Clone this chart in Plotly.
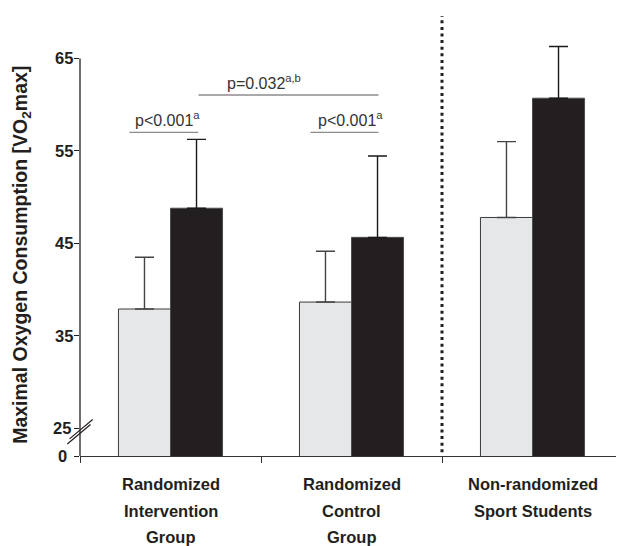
import plotly.graph_objects as go

# ---- data ----
groups = [0, 1, 2]
group_lines = [
    ["Randomized", "Intervention", "Group"],
    ["Randomized", "Control", "Group"],
    ["Non-randomized", "Sport Students"],
]
pre_vals = [37.9, 38.65, 47.8]
post_vals = [48.8, 45.65, 60.7]
pre_err = [5.6, 5.5, 8.2]
post_err = [7.45, 8.8, 5.6]
ytick_vals = [22, 25, 35, 45, 55, 65]
ytick_text = ["0", "25", "35", "45", "55", "65"]
axis_floor = 22
axis_max = 65
y_top = 69.7

FONT = "Liberation Sans, Arial, sans-serif"
OFF = 8  # page body margin offset

fig = go.Figure()
fig.add_trace(go.Bar(
    x=groups, y=pre_vals,
    marker=dict(color="#e6e7e8", line=dict(color="#3a3a3a", width=1)),
    error_y=dict(type="data", array=pre_err, arrayminus=[0]*3, symmetric=False,
                 color="#444444", thickness=1.4, width=9.5),
    showlegend=False,
))
fig.add_trace(go.Bar(
    x=groups, y=post_vals,
    marker=dict(color="#231f20", line=dict(color="#4d4d4d", width=1)),
    error_y=dict(type="data", array=post_err, arrayminus=[0]*3, symmetric=False,
                 color="#1a1a1a", thickness=1.4, width=9.5),
    showlegend=False,
))

# y axis line (ends at the top tick)
fig.add_shape(type="line", xref="paper", yref="y", x0=0, x1=0, y0=axis_floor, y1=axis_max,
              line=dict(color="#231f20", width=1.3))

# bold y tick labels
for v, t in zip(ytick_vals, ytick_text):
    right_px = 69 if t == "0" else (73 if t == "25" else 75)
    fig.add_annotation(x=(right_px - 80) / 543, y=v, xref="paper", yref="y",
                       xanchor="right", yanchor="middle", text="<b>" + t + "</b>",
                       showarrow=False, font=dict(family=FONT, size=16.5, color="#231f20"))

# dotted separator
fig.add_shape(type="line", xref="x", yref="y", x0=1.5, x1=1.5, y0=axis_floor + 0.4, y1=y_top - 0.1,
              line=dict(color="#231f20", width=3, dash="3px,3.6px"))

# significance brackets
bracket_color = "#8c8c8c"
fig.add_shape(type="line", xref="x", yref="y", x0=-0.227, x1=0.153, y0=57.0, y1=57.0,
              line=dict(color=bracket_color, width=1.4))
fig.add_shape(type="line", xref="x", yref="y", x0=0.7735, x1=1.149, y0=57.0, y1=57.0,
              line=dict(color=bracket_color, width=1.4))
fig.add_shape(type="line", xref="x", yref="y", x0=0.155, x1=1.149, y0=61.04, y1=61.04,
              line=dict(color=bracket_color, width=1.4))

pfont = dict(family=FONT, size=16, color="#333333")
fig.add_annotation(x=-0.205, y=58.41, xref="x", yref="y", xanchor="left", yanchor="middle",
                   text="p<0.001<sup>a</sup>", showarrow=False, font=pfont)
fig.add_annotation(x=0.802, y=58.41, xref="x", yref="y", xanchor="left", yanchor="middle",
                   text="p<0.001<sup>a</sup>", showarrow=False, font=pfont)
fig.add_annotation(x=0.302, y=62.47, xref="x", yref="y", xanchor="left", yanchor="middle",
                   text="p=0.032<sup>a,b</sup>", showarrow=False, font=pfont)

# axis break marks
brk = dict(color="#231f20", width=1.2)
fig.add_shape(type="line", xref="paper", yref="y", x0=(67.3 - 80) / 543, x1=(90.5 - 80) / 543,
              y0=23.3, y1=25.4, line=brk)
fig.add_shape(type="line", xref="paper", yref="y", x0=(69.5 - 80) / 543, x1=(92.7 - 80) / 543,
              y0=23.85, y1=25.95, line=brk)

# category labels
line_y_px = [484, 511, 537]
for gx, lines in zip(groups, group_lines):
    for i, t in enumerate(lines):
        fig.add_annotation(x=gx, y=(456.3 - line_y_px[i]) / 441.3, xref="x", yref="paper",
                           xanchor="center", yanchor="middle", text="<b>" + t + "</b>",
                           showarrow=False,
                           font=dict(family=FONT, size=16.5, color="#231f20"))

# y title
fig.add_annotation(x=(22 - 80) / 543, y=(456.3 - 255) / 441.3, xref="paper", yref="paper",
                   text="<b>Maximal Oxygen Consumption [VO<sub>2</sub>max]</b>", textangle=-90,
                   showarrow=False, xanchor="center", yanchor="middle",
                   font=dict(family=FONT, size=19.5, color="#231f20"))

fig.update_layout(
    width=624 - OFF, height=546 - OFF,
    margin=dict(l=80 - OFF, r=1, t=15 - OFF, b=89.7),
    paper_bgcolor="white", plot_bgcolor="white",
    barmode="group", bargap=0.425, bargroupgap=0,
    xaxis=dict(range=[-0.5, 2.5], tickvals=[-0.5, 0.5, 1.5, 2.5], ticktext=["", "", "", ""],
               ticks="outside", ticklen=6, tickcolor="#333333", tickwidth=1.3,
               showline=True, linecolor="#333333", linewidth=1.3, showgrid=False, zeroline=False),
    yaxis=dict(range=[axis_floor, y_top], tickvals=ytick_vals, showticklabels=False,
               ticks="outside", ticklen=5, tickcolor="#231f20", tickwidth=1.3,
               showline=False, showgrid=False, zeroline=False),
)

fig.write_html("out.html")
